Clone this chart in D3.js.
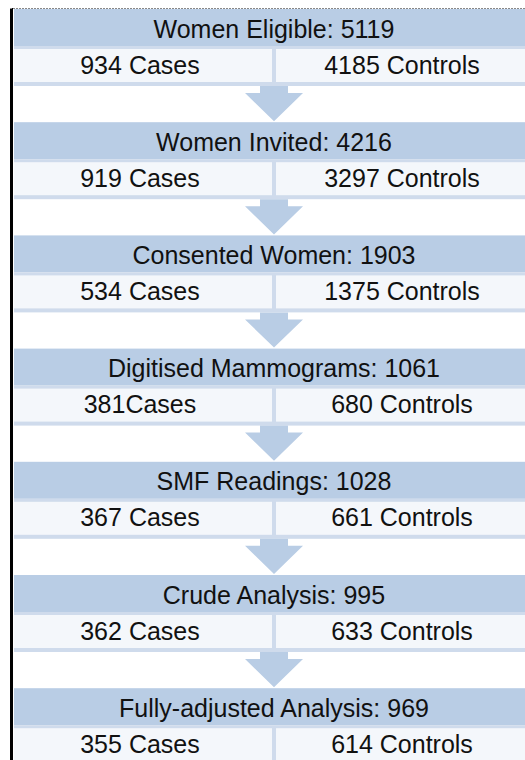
<!DOCTYPE html>
<html>
<head>
<meta charset="utf-8">
<script src="https://cdn.jsdelivr.net/npm/d3@7"></script>
<style>
  body { margin: 0; background: #fff; }
  text { font-family: "Liberation Sans", Arial, sans-serif; fill: #111; }
</style>
</head>
<body>
<svg></svg>
<script>
// flow of women through the study, stage by stage
var stages = ["Women Eligible", "Women Invited", "Consented Women", "Digitised Mammograms",
              "SMF Readings", "Crude Analysis", "Fully-adjusted Analysis"];
var totals = [5119, 4216, 1903, 1061, 1028, 995, 969];
var cases = [934, 919, 534, 381, 367, 362, 355];
var controls = [4185, 3297, 1375, 680, 661, 633, 614];
var caseGap = [" ", " ", " ", "", " ", " ", " "]; // "381Cases" is written without a space
var groups = ["Cases", "Controls"];

var svgWidth = 525, svgHeight = 760;
var headH = 37, sepH = 3, cellH = 33, lineH = 4;
var blue = "#b9cde5", cellFill = "#f4f7fb", lineCol = "#cfdbec";

var svg = d3.select('svg')
  .attr('width', svgWidth)
  .attr('height', svgHeight);

var yScale = d3.scaleBand()
  .domain(stages)
  .range([9, 9 + stages.length * 113.2]);

var xScale = d3.scaleBand()
  .domain(groups)
  .range([14, 534])
  .paddingInner(4 / 260);

var rows = stages.map((s, i) => ({
  stage: s, total: totals[i],
  cells: [cases[i] + caseGap[i] + "Cases", controls[i] + " Controls"]
}));

var block = svg.selectAll('g.block')
  .data(rows)
  .enter()
  .append('g')
  .attr('class', 'block')
  .attr('transform', d => 'translate(0,' + yScale(d.stage) + ')');

// header band
block.append('rect')
  .attr('x', 14).attr('y', 0)
  .attr('width', svgWidth).attr('height', headH)
  .attr('fill', blue);

// pale strip behind the two cells
block.append('rect')
  .attr('x', 14).attr('y', headH)
  .attr('width', svgWidth).attr('height', sepH + cellH + lineH)
  .attr('fill', lineCol);

block.selectAll('rect.cell')
  .data(d => d.cells)
  .enter()
  .append('rect')
  .attr('class', 'cell')
  .attr('x', (d, i) => xScale(groups[i]))
  .attr('y', headH + sepH)
  .attr('width', xScale.bandwidth())
  .attr('height', cellH)
  .attr('fill', cellFill);

block.append('text')
  .attr('x', 274)
  .attr('y', headH / 2 + 1)
  .attr('dy', '0.36em')
  .attr('text-anchor', 'middle')
  .attr('font-size', 25)
  .text(d => d.stage + ': ' + d.total);

block.selectAll('text.cell')
  .data(d => d.cells)
  .enter()
  .append('text')
  .attr('class', 'cell')
  .attr('x', (d, i) => xScale(groups[i]) + xScale.bandwidth() / 2 - 3)
  .attr('y', headH + sepH + cellH / 2 - 1)
  .attr('dy', '0.36em')
  .attr('text-anchor', 'middle')
  .attr('font-size', 25)
  .text(d => d);

// arrows between blocks
var ax = xScale('Controls') - 2;
var top0 = headH + sepH + cellH + lineH;
var tip = yScale.bandwidth();
svg.selectAll('path.arrow')
  .data(rows.slice(0, -1))
  .enter()
  .append('path')
  .attr('class', 'arrow')
  .attr('fill', blue)
  .attr('transform', d => 'translate(' + ax + ',' + yScale(d.stage) + ')')
  .attr('d', 'M-14,' + top0 + 'H14V' + (top0 + 7) + 'H29L0,' + (tip - 1) + 'L-29,' + (top0 + 7) + 'H-14Z');

// frame: black left edge, dotted top edge
svg.append('line')
  .attr('x1', 11.5).attr('x2', 11.5)
  .attr('y1', 8).attr('y2', svgHeight)
  .attr('stroke', '#000').attr('stroke-width', 3);
svg.append('line')
  .attr('x1', 10).attr('x2', svgWidth)
  .attr('y1', 8.5).attr('y2', 8.5)
  .attr('stroke', '#888').attr('stroke-width', 1)
  .attr('stroke-dasharray', '2,1');
</script>
</body>
</html>
